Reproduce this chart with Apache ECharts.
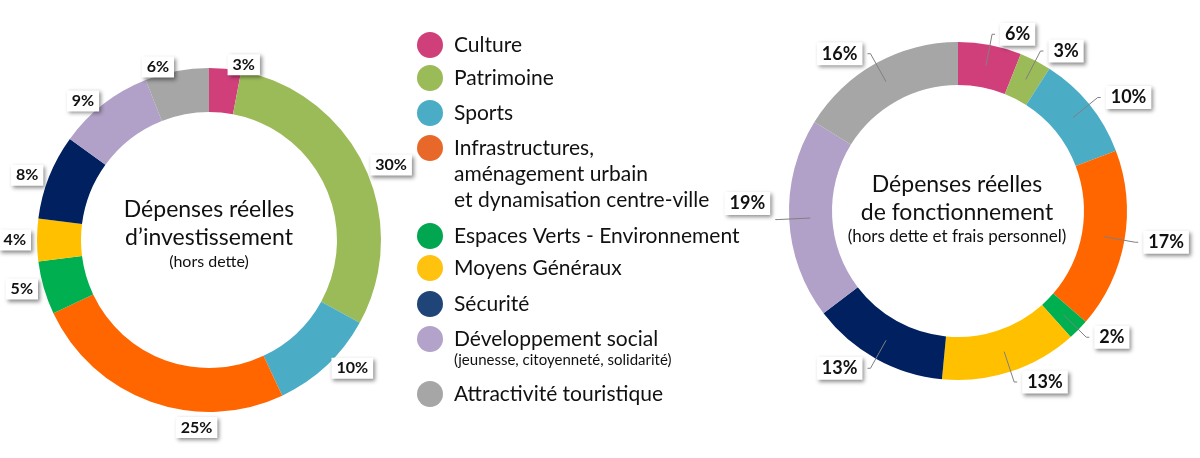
<!DOCTYPE html>
<html><head><meta charset="utf-8">
<script src="https://cdn.jsdelivr.net/npm/echarts@6/dist/echarts.min.js"></script>
<style>html,body{margin:0;padding:0;background:#fff}#c{width:1200px;height:458px}</style>
</head><body><div id="c"></div>
<script>
// ---- data ----
const categories = [
  'Culture',
  'Patrimoine',
  'Sports',
  'Infrastructures,\naménagement urbain\net dynamisation centre-ville',
  'Espaces Verts - Environnement',
  'Moyens Généraux',
  'Sécurité',
  'Développement social\n(jeunesse, citoyenneté, solidarité)',
  'Attractivité touristique'
];
const investValues = [3, 30, 10, 25, 5, 4, 8, 9, 6];
const fonctValues = [6, 3, 10, 17, 2, 13, 13, 19, 16];

// ---- styles ----
const sliceColors = ['#d13f7b','#9bbb59','#4bacc6','#ff6600','#00b050','#ffc000','#002060','#b1a0c7','#a6a6a6'];
const legendColors = ['#cf3f7a','#9bbb59','#4bacc6','#e8682a','#00a650','#ffc20e','#1f4477','#b3a2c9','#a6a6a6'];
const legendCenters = [45, 78, 113, 148, 236, 268, 304, 339, 394];
const textFont = 'Lato, "Open Sans", sans-serif';

function labelStyle(size, dist) {
  return {
    show: true, position: 'outside', formatter: '{c}%',
    fontFamily: 'Lato, "Liberation Sans", sans-serif', fontWeight: 'bold', fontSize: size, color: '#111',
    backgroundColor: '#fff', padding: [3, 5, 2, 5], overflow: 'none', bleedMargin: 0,
    distanceToLabelLine: dist,
    shadowColor: 'rgba(0,0,0,0.45)', shadowBlur: 4, shadowOffsetX: 2, shadowOffsetY: 2
  };
}
function pieData(values, transparent) {
  return values.map((v, i) => ({
    name: categories[i], value: v,
    itemStyle: { color: transparent ? 'rgba(0,0,0,0)' : sliceColors[i] }
  }));
}

const legends = categories.map((name, i) => ({
  orient: 'vertical', left: 417, top: legendCenters[i] - 13, padding: 0,
  itemWidth: 26, itemHeight: 26, icon: 'circle', selectedMode: false,
  data: [{ name: name, itemStyle: { color: legendColors[i] } }],
  formatter: n => n.split('\n')[0],
  textStyle: { fontFamily: textFont, fontSize: 21, color: '#111', lineHeight: 26, padding: [0, 0, 0, 6] }
}));

const graphic = [];
categories.forEach((name, i) => {
  const lines = name.split('\n');
  let y = legendCenters[i];
  lines.slice(1).forEach(ln => {
    const small = ln.startsWith('(');
    y += small ? 21 : 26;
    graphic.push({ type: 'text', x: 454, y: y, silent: true,
      style: { text: ln, font: (small ? 15 : 21) + 'px ' + textFont, fill: '#111',
               textVerticalAlign: 'middle', verticalAlign: 'middle' } });
  });
});
function centerText(x, y, text, size) {
  graphic.push({ type: 'text', x: x, y: y, silent: true,
    style: { text: text, font: size + 'px ' + textFont, fill: '#111',
             textAlign: 'center', align: 'center', textVerticalAlign: 'middle', verticalAlign: 'middle' } });
}
centerText(209, 210, 'Dépenses réelles', 23);
centerText(209, 238, 'd’investissement', 23);
centerText(209, 262, '(hors dette)', 16);
centerText(957, 185, 'Dépenses réelles', 23);
centerText(957, 213, 'de fonctionnement', 23);
centerText(957, 237, '(hors dette et frais personnel)', 17);

const chart = echarts.init(document.getElementById('c'), null, { renderer: 'canvas' });
chart.setOption({
  animation: false,
  backgroundColor: '#fff',
  legend: legends,
  graphic: graphic,
  series: [
    {
      type: 'pie', center: [209, 240], radius: [128, 172], silent: true,
      avoidLabelOverlap: false,
      data: pieData(investValues, false),
      label: labelStyle(16, 2),
      labelLine: { show: false, length: 4, length2: 0 },
      labelLayout: p => (p.dataIndex === 3 ? { dx: 70, dy: 22 } : {})
    },
    {
      type: 'pie', center: [958, 211], radius: [126, 169], silent: true,
      data: pieData(fonctValues, false),
      label: { show: false }, labelLine: { show: false }
    },
    {
      type: 'pie', center: [958, 211], radius: [126, 148], silent: true, z: 3,
      avoidLabelOverlap: false,
      data: pieData(fonctValues, true),
      label: labelStyle(18, 5),
      labelLine: { show: true, length: 32, length2: 3, lineStyle: { color: '#808080', width: 1 } },
      labelLayout: p => (p.dataIndex === 7 ? { dy: -16 } : {})
    }
  ]
});
</script>
</body></html>
